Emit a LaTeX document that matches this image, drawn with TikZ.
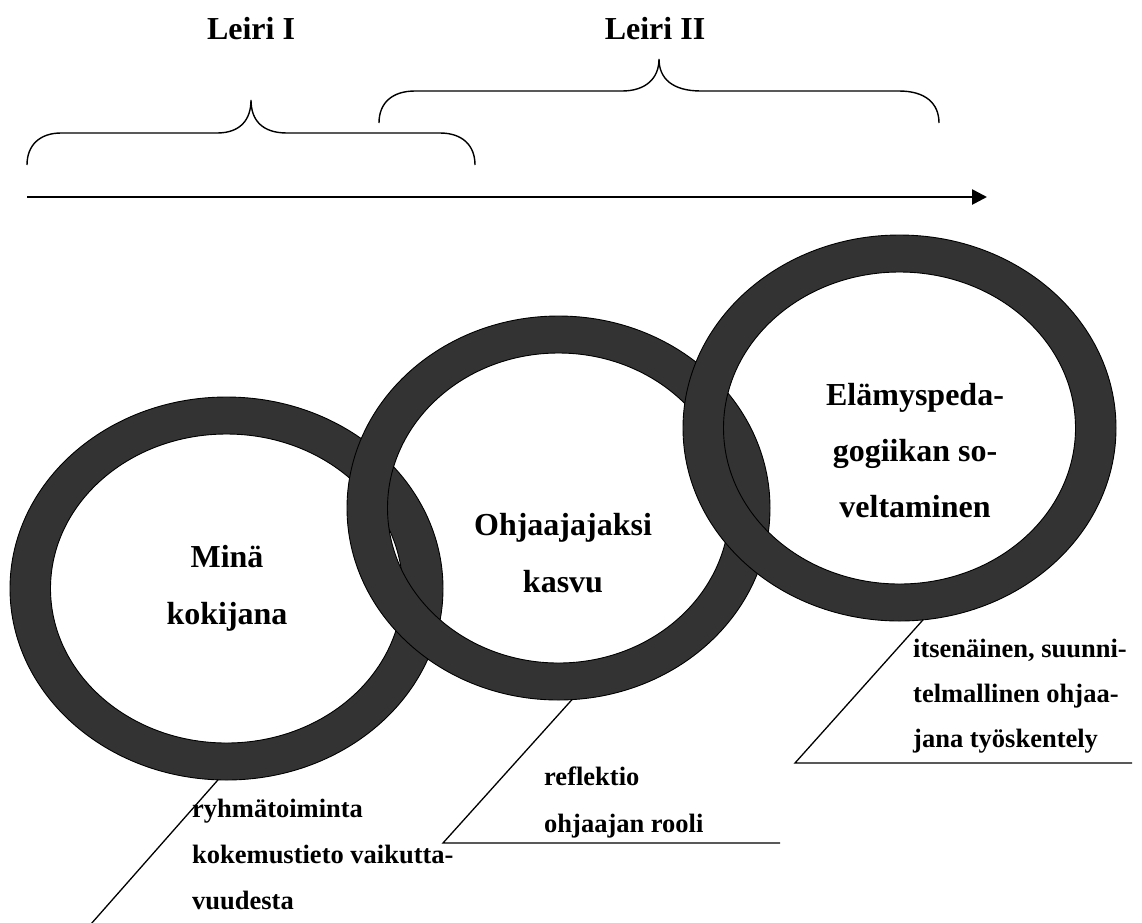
\documentclass[tikz,border=0pt]{standalone}
\usepackage{fontspec}
\setmainfont{Liberation Serif}
\usetikzlibrary{arrows.meta,calc}
\definecolor{ringgray}{HTML}{333333}
\begin{document}
\begin{tikzpicture}[x=1pt,y=1pt,
  ring/.style={fill=ringgray, draw=black, line width=0.9pt, even odd rule},
  bigtext/.style={font=\fontsize{32}{57}\selectfont\bfseries, inner sep=0pt, align=center},
  smalltext/.style={font=\fontsize{26.5}{46}\selectfont\bfseries, inner sep=0pt, align=left},
  brace/.style={line width=1.4pt},
  callout/.style={line width=1.3pt},
  timeline/.style={line width=2.6pt, -{Triangle[length=15pt,width=15pt]}}]
\useasboundingbox (0,0) rectangle (1142,-922);

% time axis
\coordinate (t0) at (27,-197);
\coordinate (t1) at (987,-197);
\draw[timeline] (t0) -- (t1);

% camp labels and braces
\node[bigtext, anchor=base] (leiri1) at (251,-39) {Leiri I};
\node[bigtext, anchor=base] (leiri2) at (655,-39) {Leiri II};
\draw[brace] (27,-165) .. controls (27,-145) and (40,-133) .. (61,-133)
  -- (217,-133) .. controls (240,-133) and (251,-120) .. (251,-100)
  .. controls (251,-120) and (262,-133) .. (287,-133)
  -- (440,-133) .. controls (462,-133) and (475,-145) .. (475,-165);
\draw[brace] (379,-123) .. controls (379,-103) and (392,-91) .. (415,-91)
  -- (622,-91) .. controls (645,-91) and (659,-79) .. (659,-59)
  .. controls (659,-79) and (673,-91) .. (701,-91)
  -- (899,-91) .. controls (925,-91) and (939,-103) .. (939,-123);

% the three rings, later ones lying on top
\coordinate (r1c) at (226.5,-588.5);
\coordinate (r2c) at (558.5,-508);
\coordinate (r3c) at (899.5,-428);
\path[ring] (r1c) ellipse [x radius=216.5pt, y radius=191.5pt]
            (r1c) ellipse [x radius=176pt, y radius=154.5pt];
\path[ring] (r2c) ellipse [x radius=211.5pt, y radius=192pt]
            (r2c) ellipse [x radius=171pt, y radius=155pt];
\path[ring] (r3c) ellipse [x radius=216.5pt, y radius=193pt]
            (r3c) ellipse [x radius=176pt, y radius=156pt];

% ring texts (base anchor sits on the last line)
\node[bigtext, anchor=base] (mina) at (227,-624) {Minä\\kokijana};
\node[bigtext, anchor=base] (ohjaaja) at (563,-592) {Ohjaajajaksi\\kasvu};
\node[bigtext, anchor=base, font=\fontsize{32}{56}\selectfont\bfseries] (elamys) at (915,-517)
  {Elämyspeda-\\gogiikan so-\\veltaminen};

% callouts
\coordinate (f1) at ($(r1c)+(267.75:216.5 and 191.5)$);
\coordinate (f2) at ($(r2c)+(273.66:211.5 and 192)$);
\coordinate (f3) at ($(r3c)+(276.23:216.5 and 193)$);
\coordinate (k1) at (91,-924);
\coordinate (k2) at (443,-843);
\coordinate (e2) at (780,-843);
\coordinate (k3) at (795,-763);
\coordinate (e3) at (1132,-763);
\draw[callout] (f1) -- (k1);
\draw[callout] (f2) -- (k2) -- (e2);
\draw[callout] (f3) -- (k3) -- (e3);

\node[smalltext, anchor=base west] (txt1) at (192,-909)
  {ryhmätoiminta\\kokemustieto vaikutta-\\vuudesta};
\node[smalltext, anchor=base west, font=\fontsize{26.5}{47}\selectfont\bfseries] (txt2) at (544,-832)
  {reflektio\\ohjaajan rooli};
\node[smalltext, anchor=base west, font=\fontsize{26.5}{45}\selectfont\bfseries] (txt3) at (913,-747)
  {itsenäinen, suunni-\\telmallinen ohjaa-\\jana työskentely};
\end{tikzpicture}
\end{document}
